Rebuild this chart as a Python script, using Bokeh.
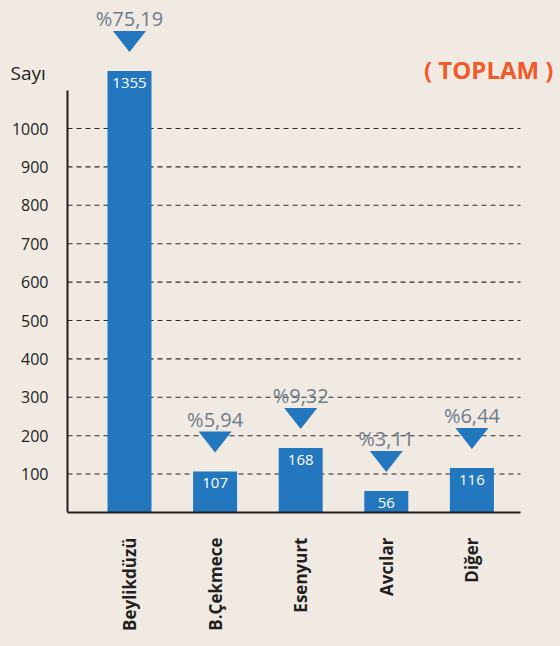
from bokeh.plotting import figure
from bokeh.models import Range1d, FixedTicker, Label, ColumnDataSource, LinearAxis
from bokeh.core.properties import value
from bokeh.embed import file_html
from bokeh.resources import INLINE
import math

# ---- data ----
categories = ["Beylikdüzü", "B.Çekmece", "Esenyurt", "Avcılar", "Diğer"]
counts = [1355, 107, 168, 56, 116]
percents = ["%75,19", "%5,94", "%9,32", "%3,11", "%6,44"]
y_ticks = [100, 200, 300, 400, 500, 600, 700, 800, 900, 1000]
axis_top = 1100     # where the drawn y axis line stops
axis_break = 1150   # bars taller than this are drawn cut off

BG = "#F0EAE3"
BLUE = "#2277BE"
DARK = "#231F20"
FONT = "Open Sans"

W, H = 560, 646
FRAME_H = 512
PX_PER_Y = 0.384          # pixels per data unit (y)
Y_END = FRAME_H / PX_PER_Y
SPACING = 85.6            # pixels per category step
PXX = 1.0 / SPACING
X0 = -129 / SPACING       # left edge of frame (data)
AX_LEFT = -62 / SPACING   # x position of the y axis line
AX_RIGHT = 391 / SPACING  # right end of baseline / grid
PXY = 1.0 / PX_PER_Y

p = figure(width=W, height=H, output_backend="svg", toolbar_location=None,
           x_range=Range1d(X0, X0 + W / SPACING),
           y_range=Range1d(0, Y_END), y_axis_location=None,
           min_border_left=0, min_border_right=0, min_border_top=0,
           min_border_bottom=H - FRAME_H)
p.background_fill_color = BG
p.border_fill_color = BG
p.outline_line_color = None
p.xgrid.visible = False
p.ygrid.visible = False

xs = list(range(len(categories)))
disp = [min(c, axis_break) for c in counts]

# dashed grid lines (lowest one lighter)
p.segment(x0=[AX_LEFT], x1=[AX_RIGHT], y0=y_ticks[:1], y1=y_ticks[:1],
          line_color="#8C8783", line_width=2, line_dash="5 4")
p.segment(x0=[AX_LEFT] * (len(y_ticks) - 1), x1=[AX_RIGHT] * (len(y_ticks) - 1),
          y0=y_ticks[1:], y1=y_ticks[1:], line_color="#2E2A28", line_width=1.1,
          line_dash="5 4")

# bars
src = ColumnDataSource(dict(x=xs, top=disp, val=[str(c) for c in counts], pct=percents))
p.vbar(x="x", top="top", bottom=0, width=44 / SPACING, source=src,
       fill_color=BLUE, line_color=None)

# value labels inside bars
p.text(x="x", y="top", text="val", source=src, y_offset=12,
       text_align="center", text_baseline="middle", text_color="white",
       text_font=value(FONT), text_font_size="15px")

# triangles above bars
tri_xs, tri_ys = [], []
for x, t in zip(xs, disp):
    top = t + 40 * PXY
    bot = t + 19 * PXY
    hw = 16.5 * PXX
    tri_xs.append([x - hw, x + hw, x])
    tri_ys.append([top, top, bot])
p.patches(tri_xs, tri_ys, fill_color=BLUE, line_color=None)

# percent labels
p.text(x="x", y="top", text="pct", source=src, y_offset=-52,
       text_align="center", text_baseline="middle", text_color="#6E7C8B",
       text_font=value(FONT), text_font_size="20px")

# y axis (fixed inside the frame)
yax = LinearAxis(fixed_location=AX_LEFT, bounds=(0, axis_top),
                 ticker=FixedTicker(ticks=y_ticks))
yax.axis_line_color = DARK
yax.axis_line_width = 2
yax.major_tick_line_color = None
yax.minor_tick_line_color = None
yax.major_tick_out = 0
yax.major_tick_in = 0
yax.major_label_standoff = 19
yax.major_label_text_font = FONT
yax.major_label_text_font_size = "16px"
yax.major_label_text_color = DARK
p.add_layout(yax, "left")

# x axis
p.xaxis.ticker = FixedTicker(ticks=xs)
p.xaxis.bounds = (AX_LEFT, AX_RIGHT)
p.xaxis.major_label_overrides = {i: c for i, c in enumerate(categories)}
p.xaxis.major_label_orientation = math.pi / 2
p.xaxis.axis_line_color = DARK
p.xaxis.axis_line_width = 2
p.xaxis.major_tick_line_color = None
p.xaxis.minor_tick_line_color = None
p.xaxis.major_tick_out = 0
p.xaxis.major_tick_in = 0
p.xaxis.major_label_standoff = 25
p.xaxis.major_label_text_font = FONT
p.xaxis.major_label_text_font_size = "17px"
p.xaxis.major_label_text_font_style = "bold"
p.xaxis.major_label_text_color = DARK

# titles
p.add_layout(Label(x=X0 + 10 * PXX, y=(FRAME_H - 72) * PXY, text="Sayı",
                   text_align="left", text_baseline="middle", text_color=DARK,
                   text_font=FONT, text_font_size="19px"))
p.add_layout(Label(x=X0 + 553 * PXX, y=(FRAME_H - 69) * PXY, text="( TOPLAM )",
                   text_align="right", text_baseline="middle", text_color="#F15A29",
                   text_font=FONT, text_font_size="24px", text_font_style="bold"))

html = file_html(p, INLINE)
html = html.replace("</head>",
                    "<style>html, body { background-color: %s !important; }</style></head>" % BG, 1)
open("out.html", "w").write(html)
